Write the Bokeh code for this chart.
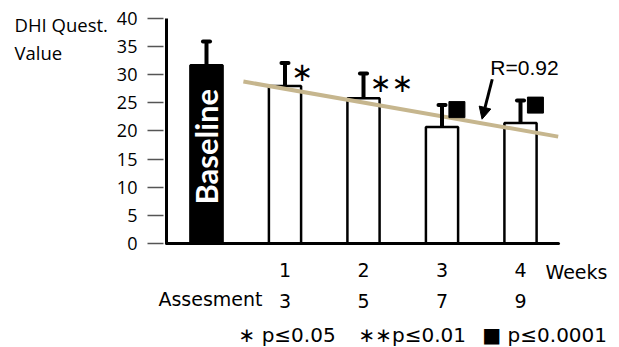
from bokeh.plotting import figure
from bokeh.models import (Range1d, LinearAxis, FixedTicker, Label, ColumnDataSource,
                          Arrow, NormalHead)
from bokeh.core.properties import value
from bokeh.embed import file_html
from bokeh.resources import INLINE

# ---------------- data ----------------
groups = ["Baseline", "1", "2", "3", "4"]
means = [31.7, 28.0, 25.8, 20.7, 21.4]
err_hi = [35.9, 32.1, 30.2, 24.6, 25.4]
sig_text = ["", "∗", "∗∗", "", ""]
sig_square = [False, False, False, True, True]
weeks = ["1", "2", "3", "4"]
assessments = ["3", "5", "7", "9"]
y_ticks = [0, 5, 10, 15, 20, 25, 30, 35, 40]
trend_x = [0.47, 4.48]
trend_y = [28.8, 19.0]
r_label = "R=0.92"
legend_items = ["∗ p≤0.05", "∗∗p≤0.01", "■ p≤0.0001"]

xs = list(range(len(groups)))
fills = ["black"] + ["white"] * (len(groups) - 1)

SANS = "DejaVu Sans"
TICKF = "Open Sans"

# axis extents (data units)
X_LO, X_HI = -0.51, 4.484
Y_LO, Y_HI = 0, 40

p = figure(width=619, height=347, output_backend="svg", toolbar_location=None,
           x_range=Range1d(-2.624, 5.261), y_range=Range1d(-18.49, 43.2),
           min_border=0)
p.outline_line_color = None
p.grid.visible = False
p.background_fill_color = "white"
p.border_fill_color = "white"

# bars
src = ColumnDataSource(dict(x=xs, top=means, hi=err_hi, fill=fills))
p.vbar(x="x", top="top", width=0.41, bottom=0, fill_color="fill",
       line_color="black", line_width=2.5, source=src)

# trend line
p.line(trend_x, trend_y, line_color="#c6b68e", line_width=4)

# error bars
p.segment(x0="x", y0="top", x1="x", y1="hi", line_color="black", line_width=4, source=src)
cap_src = ColumnDataSource(dict(x0=[x - 0.045 for x in xs], x1=[x + 0.045 for x in xs], y=err_hi))
p.segment(x0="x0", y0="y", x1="x1", y1="y", line_color="black", line_width=4,
          line_cap="round", source=cap_src)

# significance markers
txt_src = ColumnDataSource(dict(x=[x + 0.08 for x in xs], y=[h - 1.6 for h in err_hi], t=sig_text))
p.text(x="x", y="y", text="t", source=txt_src, text_font=value(SANS),
       text_font_size="26px", text_align="left", text_baseline="middle", text_color="black")
sq_x = [x + 0.19 for x, s in zip(xs, sig_square) if s]
sq_y = [h - 0.8 for h, s in zip(err_hi, sig_square) if s]
p.scatter(sq_x, sq_y, marker="square", size=16, fill_color="black", line_color="black")

# baseline label inside bar
p.text(x=[xs[0]], y=[17.2], text=[groups[0]], angle=1.5708, text_color="white",
       text_font=value("Lato"), text_font_style="bold", text_font_size="31px",
       text_align="center", text_baseline="middle")

# R label + arrow
p.add_layout(Label(x=4.05, y=31.3, text=r_label, text_font="Liberation Sans",
                   text_color="black", text_font_size="21px",
                   text_align="center", text_baseline="middle"))
p.add_layout(Arrow(end=NormalHead(size=12, fill_color="black", line_color="black"),
                   x_start=3.64, y_start=29.2, x_end=3.51, y_end=22.1,
                   line_color="black", line_width=3))

# y axis (fixed at the left end of the x extent)
ya = p.yaxis[0]
ya.fixed_location = X_LO
ya.bounds = (Y_LO, Y_HI)
ya.ticker = FixedTicker(ticks=y_ticks)
ya.axis_line_width = 3
ya.axis_line_color = "black"
ya.major_tick_out = 19
ya.major_tick_in = -3
ya.major_tick_line_color = "#555555"
ya.major_tick_line_width = 1.5
ya.minor_tick_line_color = None
ya.major_label_standoff = 10
ya.major_label_text_font = TICKF
ya.major_label_text_font_size = "18px"
ya.major_label_text_color = "black"

# x axis (weeks), fixed at y = 0
xa = p.xaxis[0]
xa.fixed_location = Y_LO
xa.bounds = (X_LO, X_HI)
xa.ticker = FixedTicker(ticks=[1, 2, 3, 4])
xa.major_label_overrides = {i + 1: w for i, w in enumerate(weeks)}
xa.axis_line_width = 3
xa.axis_line_color = "black"
xa.axis_line_cap = "round"
xa.major_tick_out = 0
xa.major_tick_in = 0
xa.minor_tick_line_color = None
xa.major_label_standoff = 20
xa.major_label_text_font = SANS
xa.major_label_text_font_size = "19px"
xa.major_label_text_color = "black"

# second axis (assessments)
xa2 = LinearAxis(ticker=FixedTicker(ticks=[1, 2, 3, 4]),
                 major_label_overrides={i + 1: a for i, a in enumerate(assessments)},
                 fixed_location=Y_LO, bounds=(X_LO, X_HI))
xa2.axis_line_color = None
xa2.major_tick_line_color = None
xa2.minor_tick_line_color = None
xa2.major_label_standoff = 45
xa2.major_label_text_font = SANS
xa2.major_label_text_font_size = "19px"
xa2.major_label_text_color = "black"
p.add_layout(xa2, "below")

# texts
p.add_layout(Label(x=4.318, y=-5.07, text="Weeks", text_font=SANS, text_color="black",
                   text_font_size="19px", text_align="left", text_baseline="middle"))
p.add_layout(Label(x=0.713, y=-9.84, text="Assesment", text_font=SANS, text_color="black",
                   text_font_size="19px", text_align="right", text_baseline="middle"))
for lx, item in zip([0.408, 1.936, 3.514], legend_items):
    p.add_layout(Label(x=lx, y=-16.2, text=item, text_font=SANS, text_color="black",
                       text_font_size="20px", text_align="left", text_baseline="middle"))

p.add_layout(Label(x=-2.446, y=38.9, text="DHI Quest.", text_font=TICKF, text_color="black",
                   text_font_size="18.5px", text_align="left", text_baseline="middle"))
p.add_layout(Label(x=-2.446, y=33.87, text="Value", text_font=TICKF, text_color="black",
                   text_font_size="18.5px", text_align="left", text_baseline="middle"))

open("out.html", "w").write(file_html(p, INLINE))
